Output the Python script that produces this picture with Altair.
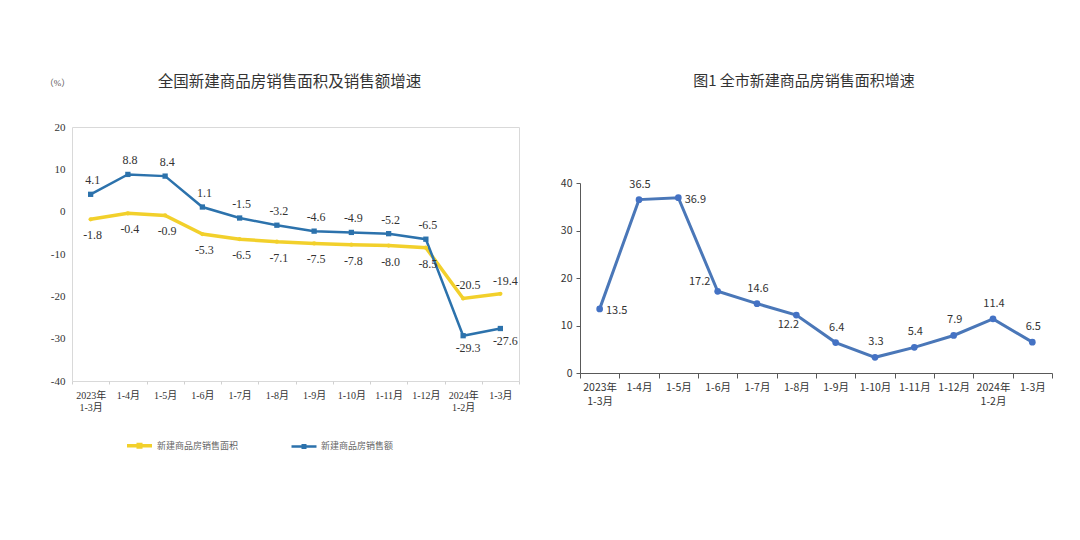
import json
import altair as alt
import pandas as pd

# ---------------- data ----------------
months = ["2023年\n1-3月", "1-4月", "1-5月", "1-6月", "1-7月", "1-8月", "1-9月",
          "1-10月", "1-11月", "1-12月", "2024年\n1-2月", "1-3月"]
nat_area = [-1.8, -0.4, -0.9, -5.3, -6.5, -7.1, -7.5, -7.8, -8.0, -8.5, -20.5, -19.4]
nat_sales = [4.1, 8.8, 8.4, 1.1, -1.5, -3.2, -4.6, -4.9, -5.2, -6.5, -29.3, -27.6]
city_area = [13.5, 36.5, 36.9, 17.2, 14.6, 12.2, 6.4, 3.3, 5.4, 7.9, 11.4, 6.5]
series_names = ["新建商品房销售面积", "新建商品房销售额"]
left_title = "全国新建商品房销售面积及销售额增速"
right_title = "图1  全市新建商品房销售面积增速"
unit_label = "（%）"
left_ticks = [-40, -30, -20, -10, 0, 10, 20]
right_ticks = [0, 10, 20, 30, 40]

rows = []
for i, m in enumerate(months):
    rows.append({"month": m, "idx": i, "series": series_names[0], "value": nat_area[i]})
    rows.append({"month": m, "idx": i, "series": series_names[1], "value": nat_sales[i]})
left_df = pd.DataFrame(rows)
right_df = pd.DataFrame({"month": months, "idx": list(range(len(months))), "value": city_area})

SERIF = "'Liberation Serif', 'Noto Sans CJK SC', serif"
SANS = "'Noto Sans CJK SC', sans-serif"
YEL = "#F2D02B"
BLU = "#2C72AC"
RBLU = "#4A77B8"
MINUS_FIX = "replace(datum.label, '\u2212', '-')"
LABEL_CALC = "replace(format(datum.value, '.1f'), '\u2212', '-')"

# ---------------- left chart ----------------
xL = alt.X("month:N", sort=months, bandPosition=0.5,
           scale=alt.Scale(type="band", paddingInner=0, paddingOuter=0),
           axis=alt.Axis(title=None, labelExpr="split(datum.label, '\\n')", labelAngle=0,
                         labelFont=SERIF, labelFontSize=10, labelColor="#333",
                         domain=False, tickBand="extent", ticks=True, tickSize=3,
                         tickColor="#d0d0d0", labelPadding=6, labelLineHeight=12))
yL = alt.Y("value:Q", scale=alt.Scale(domain=[-40, 20], nice=False),
           axis=alt.Axis(values=left_ticks, grid=False, domain=False, ticks=False,
                         labelExpr=MINUS_FIX,
                         labelFont=SERIF, labelFontSize=11, labelColor="#333", labelPadding=7,
                         title=unit_label, titleAngle=0, titleX=-15, titleY=-45,
                         titleAlign="center", titleBaseline="middle", titleFont=SERIF,
                         titleFontSize=9, titleFontWeight="normal", titleColor="#555"))
colorL = alt.Color("series:N", sort=series_names,
                   scale=alt.Scale(domain=series_names, range=[YEL, BLU]),
                   legend=alt.Legend(title=None, orient="none", legendX=53, legendY=304,
                                     direction="horizontal",
                                     symbolType="M-1,0H1M-0.1,-0.1H0.1V0.1H-0.1Z",
                                     symbolSize=625, symbolStrokeWidth=2.5,
                                     labelFont=SANS, labelFontSize=9, labelColor="#666",
                                     columnPadding=47, labelOffset=3))

baseL = alt.Chart(left_df).encode(x=xL, y=yL)
linesL = baseL.mark_line().encode(
    color=colorL,
    strokeWidth=alt.StrokeWidth("series:N", scale=alt.Scale(domain=series_names, range=[3.5, 2.5]), legend=None),
)
s_area = json.dumps(series_names[0], ensure_ascii=False)
s_sales = json.dumps(series_names[1], ensure_ascii=False)
pts_area = baseL.mark_point(filled=True, opacity=1, color=YEL, shape="circle", size=18).transform_filter(
    f"datum.series == {s_area}")
pts_sales = baseL.mark_point(filled=True, opacity=1, color=BLU, shape="square", size=28).transform_filter(
    f"datum.series == {s_sales}")

txt = dict(font=SERIF, fontSize=12, color="#333")
lab_base = baseL.transform_calculate(lab=LABEL_CALC).encode(text="lab:N")
labels_sales_up = lab_base.mark_text(dy=-14, dx=2, **txt).transform_filter(
    f"datum.series == {s_sales} && datum.idx < 10")
labels_sales_down = lab_base.mark_text(dy=12, dx=5, **txt).transform_filter(
    f"datum.series == {s_sales} && datum.idx >= 10")
labels_area_down = lab_base.mark_text(dy=16, dx=2, **txt).transform_filter(
    f"datum.series == {s_area} && datum.idx < 10")
labels_area_up = lab_base.mark_text(dy=-13, dx=5, **txt).transform_filter(
    f"datum.series == {s_area} && datum.idx >= 10")

left = alt.layer(linesL, pts_area, pts_sales, labels_sales_up, labels_sales_down,
                 labels_area_down, labels_area_up).properties(
    width=447, height=254,
    title=alt.TitleParams(left_title, font=SANS, fontSize=15.5, fontWeight="normal", color="#333",
                          offset=-12, anchor="middle", frame="group", dx=-6),
    view=alt.ViewBackground(stroke="#d9d9d9", strokeWidth=1),
)

# ---------------- right chart ----------------
R_H = 246
xR = alt.X("month:N", sort=months, bandPosition=0.5,
           scale=alt.Scale(type="band", paddingInner=0, paddingOuter=0),
           axis=alt.Axis(title=None, labelExpr="split(datum.label, '\\n')", labelAngle=0,
                         labelFont=SANS, labelFontSize=10.5, labelColor="#333",
                         domain=True, domainColor="#595959", tickBand="extent", ticks=True,
                         tickSize=5, tickColor="#595959", labelPadding=4, labelLineHeight=14))
yR = alt.Y("value:Q", scale=alt.Scale(domain=[0, 40], nice=False, range=[R_H, 56]),
           axis=alt.Axis(values=right_ticks, grid=False, domain=True, domainColor="#595959",
                         ticks=True, tickSize=4, tickColor="#595959",
                         labelFont=SANS, labelFontSize=10.5, labelColor="#333", labelPadding=4,
                         title=None))
baseR = alt.Chart(right_df).encode(x=xR, y=yR)
lineR = baseR.mark_line(color=RBLU, strokeWidth=3)
pointR = baseR.mark_point(filled=True, opacity=1, color="#4472C4", size=45)
rtxt = dict(font=SANS, fontSize=11, color="#333")
rlab = baseR.encode(text=alt.Text("value:Q", format=".1f"))
lab_up = rlab.mark_text(dy=-15, dx=1, **rtxt).transform_filter(
    "indexof([1,4,6,7,8,9,10,11], datum.idx) >= 0")
lab_right = rlab.mark_text(dx=17, dy=2, **rtxt).transform_filter(
    "indexof([0,2], datum.idx) >= 0")
lab_left = rlab.mark_text(dx=-18, dy=-9, **rtxt).transform_filter("datum.idx == 3")
lab_below = rlab.mark_text(dx=-8, dy=10, **rtxt).transform_filter("datum.idx == 5")

right = alt.layer(lineR, pointR, lab_up, lab_right, lab_left, lab_below).properties(
    width=472, height=R_H,
    title=alt.TitleParams(right_title, font=SANS, fontSize=15, fontWeight="normal", color="#333",
                          offset=38, anchor="middle", frame="group", dx=-12),
)

chart = alt.hconcat(left, right, spacing=40).properties(
    padding={"left": 35, "top": 66, "right": 5, "bottom": 5}
).configure(font=SANS).configure_view(stroke=None)

chart.save("out.html", embed_options={"renderer": "svg", "actions": False})
